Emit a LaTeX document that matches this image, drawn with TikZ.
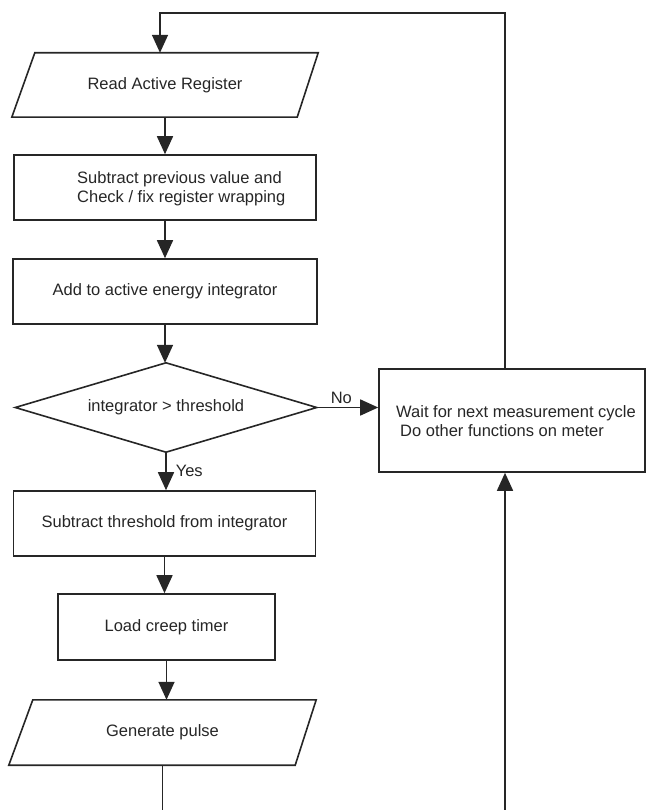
\documentclass[tikz,border=0pt]{standalone}
\usepackage{fontspec}
\setmainfont{Liberation Sans}
\usetikzlibrary{arrows.meta}
\begin{document}
\begin{tikzpicture}[x=1pt,y=-1pt,
  line/.style={draw=black!85, line width=1.6pt},
  arr/.style={line, -{Triangle[length=18pt,width=16pt]}},
  txt/.style={font=\fontsize{16.5}{19}\selectfont, inner sep=0pt, align=left, text=black!85},
  box/.style={line, rectangle, inner sep=0pt, txt, align=center},
  ghost/.style={rectangle, inner sep=0pt, txt, align=center},
]
\useasboundingbox (0,0) rectangle (646,810);

% nodes
\node[ghost, minimum width=306pt, minimum height=64pt] (p1) at (165,85) {Read Active Register};
\draw[line] ([xshift=23pt]p1.north west) -- (p1.north east) -- ([xshift=-21pt]p1.south east) -- (p1.south west) -- cycle;

\node[box, minimum width=302pt, minimum height=65pt] (b1) at (165,187.5) {};
\node[txt, anchor=west] (b1t) at (77,189) {Subtract previous value and\\Check / fix register wrapping};

\node[box, minimum width=304pt, minimum height=65pt] (b2) at (165,291.5) {Add to active energy integrator};

\node[ghost, minimum width=301pt, minimum height=89pt] (d) at (166,407.5) {integrator > threshold};
\draw[line] (d.north) -- (d.east) -- (d.south) -- (d.west) -- cycle;

\node[box, minimum width=302pt, minimum height=65pt] (b3) at (164.5,523.5) {Subtract threshold from integrator};

\node[box, minimum width=217pt, minimum height=66pt] (b4) at (166.5,627) {Load creep timer};

\node[ghost, minimum width=307pt, minimum height=65pt] (p2) at (162.5,732.5) {Generate pulse};
\draw[line] ([xshift=24pt]p2.north west) -- (p2.north east) -- ([xshift=-21pt]p2.south east) -- (p2.south west) -- cycle;

\node[box, minimum width=266pt, minimum height=103pt] (r) at (512,420.5) {};
\node[txt, anchor=west] (rt) at (396,421.5) {Wait for next measurement cycle\\\hspace*{4pt}Do other functions on meter};

% connectors
\coordinate (topR) at (505,13);
\coordinate (topL) at (160,13);
\draw[arr] (topR |- r.north) -- (topR) -- (topL) -- (topL |- p1.north);
\draw[arr] (p1.south) -- (p1.south |- b1.north);
\draw[arr] (b1.south) -- (b1.south |- b2.north);
\draw[arr] (b2.south) -- (b2.south |- d.north);
\draw[arr] (d.south) -- (d.south |- b3.north) node[pos=0.5, anchor=west, xshift=9pt, txt] (yes) {Yes};
\draw[arr] (d.east) -- (d.east -| r.west) node[pos=0.4, anchor=south, yshift=3pt, txt] (no) {No};
\draw[arr] (b3.south) -- (b3.south |- b4.north);
\draw[arr] (b4.south) -- (b4.south |- p2.north);
\coordinate (bl) at (163,810);
\draw[line] (p2.south) -- (p2.south |- bl);
\coordinate (br) at (505,810);
\draw[arr] (br) -- (br |- r.south);
\end{tikzpicture}
\end{document}
